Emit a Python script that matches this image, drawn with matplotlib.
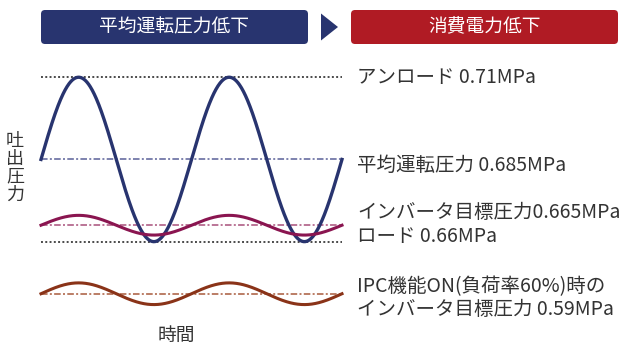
import numpy as np
import matplotlib.pyplot as plt
from matplotlib.patches import FancyBboxPatch, Polygon

plt.rcParams['font.family'] = ['Noto Sans CJK JP', 'DejaVu Sans']

# 圧力レベル (MPa)
unload = 0.71
avg_pressure = 0.685
inv_target = 0.665
load = 0.66
ipc_target = 0.59

# 波形の振幅 (MPa) と周期数
avg_swing = 0.025
inv_swing = 0.003
ipc_swing = 0.0033
cycles = 2

label_texts = ['アンロード 0.71MPa', '平均運転圧力 0.685MPa',
               'インバータ目標圧力0.665MPa', 'ロード 0.66MPa']
label_levels = [unload, avg_pressure, inv_target, load]
label_dy = [0, -4, 9, 3.4]  # pt
ipc_text = 'IPC機能ON(負荷率60%)時の\nインバータ目標圧力 0.59MPa'

navy = '#28346f'
red = '#b01b24'
magenta = '#8a1550'
brown = '#8a3318'
grey = '#333333'

fig = plt.figure(figsize=(6.22, 3.45), dpi=100)

# 見出し・軸ラベル用 (ピクセル座標)
bg = fig.add_axes([0, 0, 1, 1])
bg.set_xlim(0, 622)
bg.set_ylim(345, 0)
bg.axis('off')

bg.add_patch(FancyBboxPatch((41, 10), 267, 34, boxstyle='round,pad=0,rounding_size=4',
                            fc=navy, ec='none'))
bg.add_patch(FancyBboxPatch((351, 10), 267, 34, boxstyle='round,pad=0,rounding_size=4',
                            fc=red, ec='none'))
bg.add_patch(Polygon([(321, 13.5), (338, 27), (321, 40.5)], closed=True, fc=navy, ec='none'))
bg.text(174.5, 27, '平均運転圧力低下', color='white', fontsize=13.5, ha='center', va='center')
bg.text(484.5, 27, '消費電力低下', color='white', fontsize=13.5, ha='center', va='center')

for i, ch in enumerate('吐出圧力'):
    bg.text(15, 141 + i * 17.8, ch, color=grey, fontsize=13, ha='center', va='center')
bg.text(176, 335, '時間', color=grey, fontsize=13.5, ha='center', va='center')

# 上段: 平均運転圧力とインバータ目標圧力
ax = fig.add_axes([41 / 622, 0.2519, 301 / 622, 0.5719])
ax.set_xlim(0, cycles)
ax.set_ylim(0.655, 0.715)
ax.axis('off')

# 下段: IPC機能ON時
ax2 = fig.add_axes([41 / 622, 0.0533, 301 / 622, 0.1906], sharex=ax)
ax2.set_ylim(0.58, 0.60)
ax2.axis('off')

t = np.linspace(0, cycles, 600)
s = np.sin(2 * np.pi * t)

dot = (0, (1, 1.2))
dashdot = (0, (4.3, 1.5, 1.3, 1.5))

for lv in (unload, load):
    ax.axhline(lv, color='#4a4a4a', lw=1.4, ls=dot)
ax.axhline(avg_pressure, color='#5a6098', lw=1.1, ls=dashdot)
ax.axhline(inv_target, color='#a8507a', lw=1.1, ls=dashdot)
ax2.axhline(ipc_target, color='#a85a3c', lw=1.1, ls=dashdot)

ax.plot(t, avg_pressure + avg_swing * s, color=navy, lw=2.4, clip_on=False)
ax.plot(t, inv_target + inv_swing * s, color=magenta, lw=2.2, clip_on=False)
ax2.plot(t, ipc_target + ipc_swing * s, color=brown, lw=2.2, clip_on=False)

for txt, lv, dy in zip(label_texts, label_levels, label_dy):
    ax.annotate(txt, xy=(1, lv), xycoords=ax.get_yaxis_transform(),
                xytext=(11, dy), textcoords='offset points',
                color=grey, fontsize=14, ha='left', va='center')
ax2.annotate(ipc_text, xy=(1, ipc_target), xycoords=ax2.get_yaxis_transform(),
             xytext=(11, -3), textcoords='offset points',
             color=grey, fontsize=14, ha='left', va='center', linespacing=1.1)

fig.savefig('out.png', dpi=100)
